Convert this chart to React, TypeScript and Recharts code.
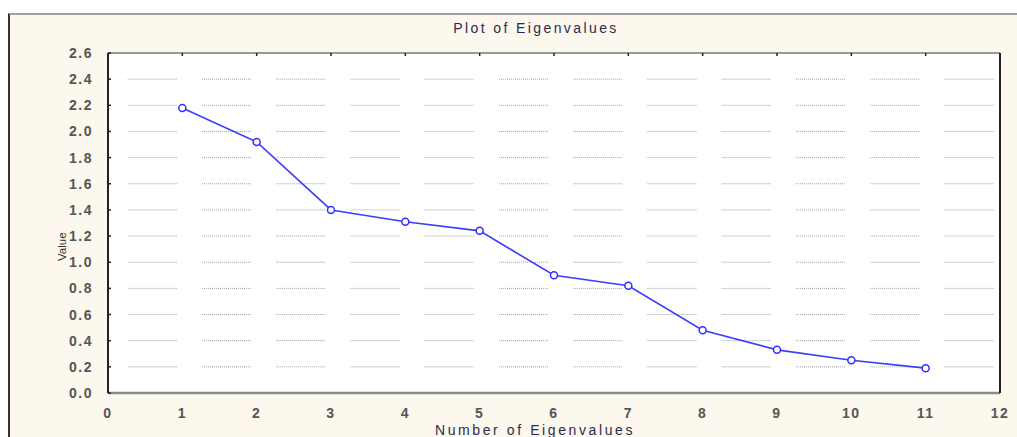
import React from 'react';
import { LineChart, Line, XAxis, YAxis, CartesianGrid } from 'recharts';

// eigenvalue number -> eigenvalue
const components = [1, 2, 3, 4, 5, 6, 7, 8, 9, 10, 11];
const eigenvalues = [2.18, 1.92, 1.4, 1.31, 1.24, 0.9, 0.82, 0.48, 0.33, 0.25, 0.19];
const xTicks = [0, 1, 2, 3, 4, 5, 6, 7, 8, 9, 10, 11, 12];
const yTicks = [0, 0.2, 0.4, 0.6, 0.8, 1.0, 1.2, 1.4, 1.6, 1.8, 2.0, 2.2, 2.4, 2.6];
const gridValues = yTicks.slice(1, -1);

const data = components.map((n, i) => ({ n, value: eigenvalues[i] }));

const FONT = '"Liberation Sans", Arial, sans-serif';
const W = 1017;
const H = 437;

// dotted grid: dotted run, then a gap around each x tick
const step = 891 / 12;
const dashes: number[] = [];
for (let i = 0; i < 24; i++) dashes.push(1, 1);
dashes.push(1, step - 49);
const dashArray = dashes.join(' ');

const GridLine = (props: any) => (
  <line
    x1={props.x1}
    x2={props.x2}
    y1={props.y1}
    y2={props.y2}
    stroke="#a0a0a0"
    strokeWidth={1}
    strokeDasharray={dashArray}
    strokeDashoffset={step - 19.7}
  />
);

const Empty = () => <g />;

export default function App() {
  return (
    <div style={{ position: 'absolute', left: 0, top: 0, width: W, height: H, overflow: 'hidden', background: '#fff' }}>
      {/* outer panel */}
      <div
        style={{
          position: 'absolute',
          left: 8,
          top: 13,
          width: W,
          height: H,
          background: '#fdf8ee',
          borderTop: '2px solid #a0a0a0',
          borderLeft: '2px solid #333',
        }}
      />
      <div style={{ position: 'absolute', left: 0, top: 0 }}>
        <LineChart
          width={W}
          height={H}
          data={data}
          margin={{ top: 43, right: 7, left: 48, bottom: 14 }}
        >
          <CartesianGrid
            fill="#ffffff"
            vertical={false}
            horizontal={GridLine}
            horizontalValues={gridValues}
          />
          <XAxis
            dataKey="n"
            type="number"
            domain={[0, 12]}
            ticks={xTicks}
            interval={0}
            height={30}
            axisLine={{ stroke: '#8a8a8a', strokeWidth: 2.5 }}
            tickLine={false}
            tickMargin={9}
            tick={{ fontSize: 14, fontWeight: 'bold', fill: '#555', fontFamily: FONT, letterSpacing: 1.5 }}
            label={{
              value: 'Number of Eigenvalues',
              position: 'insideBottom',
              offset: -12,
              dx: -19,
              style: { fontSize: 14, fill: '#2b2b4f', fontFamily: FONT, letterSpacing: 2.6 },
            }}
          />
          <XAxis
            xAxisId="top"
            orientation="top"
            dataKey="n"
            type="number"
            domain={[0, 12]}
            ticks={xTicks}
            height={10}
            axisLine={{ stroke: '#999', strokeWidth: 2 }}
            tickLine={{ stroke: '#222', strokeWidth: 1.5 }}
            tickSize={-3}
            tick={Empty}
          />
          <YAxis
            type="number"
            domain={[0, 2.6]}
            ticks={yTicks}
            interval={0}
            width={60}
            axisLine={{ stroke: '#222', strokeWidth: 2 }}
            tickLine={{ stroke: '#222', strokeWidth: 1.5 }}
            tickSize={-3}
            tickMargin={18}
            tickFormatter={(v: number) => v.toFixed(1)}
            tick={{ fontSize: 14, fontWeight: 'bold', fill: '#555', fontFamily: FONT, letterSpacing: 1.5 }}
            label={{
              value: 'Value',
              angle: -90,
              position: 'insideLeft',
              offset: 14,
              dy: 38,
              style: { fontSize: 11.5, fill: '#333', fontFamily: FONT },
            }}
          />
          <YAxis
            yAxisId="r"
            orientation="right"
            type="number"
            domain={[0, 2.6]}
            ticks={yTicks}
            width={10}
            axisLine={{ stroke: '#222', strokeWidth: 2 }}
            tickLine={{ stroke: '#222', strokeWidth: 1.5 }}
            tickSize={-3}
            tick={Empty}
          />
          <text
            x={536}
            y={33}
            textAnchor="middle"
            style={{ fontSize: 14, fill: '#2b2b4f', fontFamily: FONT, letterSpacing: 2.4 }}
          >
            Plot of Eigenvalues
          </text>
          <Line
            type="linear"
            dataKey="value"
            stroke="#3d3dff"
            strokeWidth={1.6}
            dot={{ r: 3.5, fill: '#fff', stroke: '#2f2fff', strokeWidth: 1.5 }}
            activeDot={false}
            isAnimationActive={false}
          />
        </LineChart>
      </div>
    </div>
  );
}
